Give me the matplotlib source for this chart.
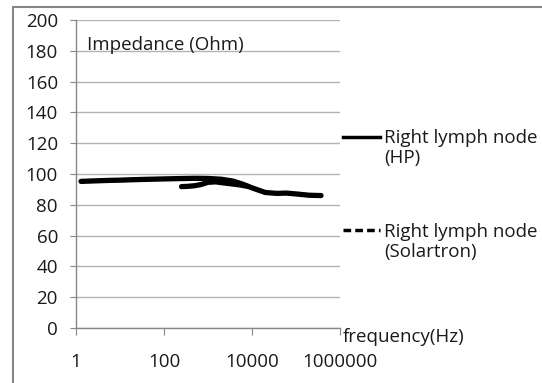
import matplotlib.pyplot as plt
from matplotlib.lines import Line2D
from matplotlib.patches import Rectangle

plt.rcParams['font.family'] = ['Open Sans', 'DejaVu Sans']

# HP analyser sweep
hp_freq = [1.3, 2, 5, 10, 20, 50, 100, 200, 500, 1000, 2000, 3700, 6000,
           10000, 20000, 37000, 60000, 105000, 200000, 370000]
hp_imp = [95.2, 95.4, 95.8, 96.0, 96.3, 96.6, 96.8, 97.0, 97.2, 97.1, 96.6,
          95.4, 93.5, 91.0, 88.0, 87.4, 87.6, 87.0, 86.2, 86.0]

# Solartron sweep
sol_freq = [250, 350, 500, 700, 1000, 1500, 2000, 3000, 5000, 8000]
sol_imp = [91.8, 92.0, 92.4, 93.2, 94.6, 94.9, 94.4, 93.8, 93.0, 92.0]

yticks = [0, 20, 40, 60, 80, 100, 120, 140, 160, 180, 200]
xticks = [1, 100, 10000, 1000000]
xticklabels = ['1', '100', '10000', '1000000']

txt = '#1a1a1a'
axis_col = '#868686'
grid_col = '#b3b3b3'
fs = 13.5

fig = plt.figure(figsize=(5.42, 3.83), dpi=100)
ax = fig.add_axes([76 / 542, 55 / 383, 264 / 542, 308 / 383])

ax.plot(hp_freq, hp_imp, color='black', lw=3.8, solid_capstyle='round')
ax.plot(sol_freq, sol_imp, color='black', lw=3.8, solid_capstyle='round')

ax.set_xscale('log')
ax.set_xlim(1, 1000000)
ax.set_ylim(0, 200)
ax.set_xticks(xticks)
ax.set_xticklabels(xticklabels)
ax.xaxis.set_minor_locator(plt.NullLocator())
ax.set_yticks(yticks)

ax.grid(axis='y', color=grid_col, lw=1)
ax.set_axisbelow(True)
for s in ['top', 'right']:
    ax.spines[s].set_visible(False)
for s in ['left', 'bottom']:
    ax.spines[s].set_color(axis_col)
    ax.spines[s].set_linewidth(1)

ax.tick_params(axis='x', direction='out', length=5, color=axis_col,
               pad=13, labelsize=fs, labelcolor=txt)
ax.tick_params(axis='y', direction='out', length=4, color=axis_col,
               pad=9, labelsize=fs, labelcolor=txt)

ax.text(0.042, 0.919, 'Impedance (Ohm)', transform=ax.transAxes,
        ha='left', va='center', fontsize=fs, color=txt)
ax.text(1.011, -0.028, 'frequency(Hz)', transform=ax.transAxes,
        ha='left', va='center', fontsize=fs, color=txt, clip_on=False)

blank = Line2D([], [], linestyle='none')
hp_handle = Line2D([], [], color='black', lw=2.5)
sol_handle = Line2D([], [], color='black', lw=2.5, linestyle=(0, (2.2, 1.2)))

leg_kw = dict(loc='upper left', frameon=False, fontsize=fs, handlelength=2.0,
              handletextpad=0.2, labelspacing=0.1, borderpad=0,
              borderaxespad=0, labelcolor=txt)
leg1 = ax.legend([hp_handle, blank], ['Right lymph node', '(HP)'],
                 bbox_to_anchor=(1.01, 0.645), **leg_kw)
ax.add_artist(leg1)
ax.legend([sol_handle, blank], ['Right lymph node', '(Solartron)'],
          bbox_to_anchor=(1.01, 0.341), **leg_kw)

fig.patches.append(Rectangle((13 / 542, -0.1), 1.0, (376 / 383) + 0.1,
                             transform=fig.transFigure, fill=False,
                             edgecolor=axis_col, lw=1.5))

fig.savefig('out.png', dpi=100)
